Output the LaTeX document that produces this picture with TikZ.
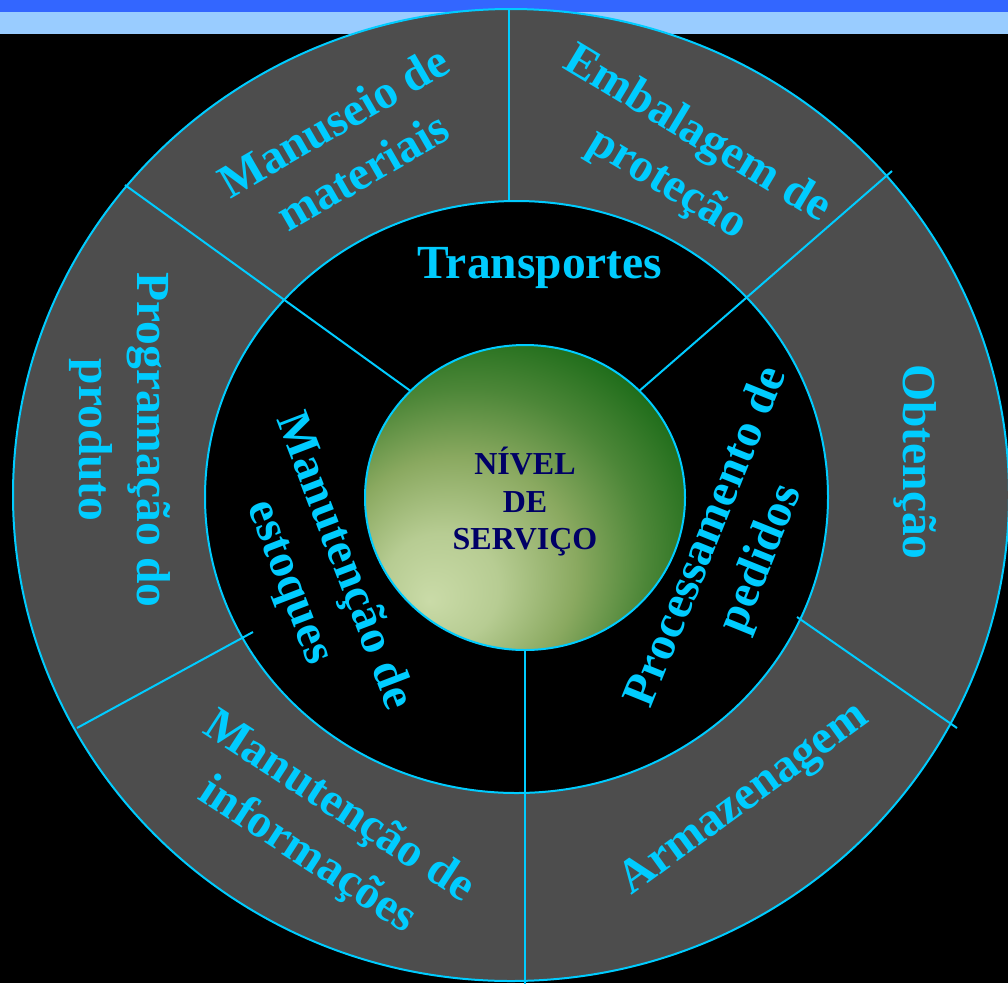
\documentclass[tikz,border=0pt]{standalone}
\usepackage{fontspec}
\setmainfont{Liberation Serif}
\usepackage{tikz}

\definecolor{ringline}{HTML}{00CCFF}
\definecolor{ringgray}{HTML}{4D4D4D}
\definecolor{bandblue}{HTML}{3366FF}
\definecolor{bandlight}{HTML}{99CCFF}
\definecolor{nivelnavy}{HTML}{000066}
\definecolor{nivellight}{HTML}{CADBA8}
\definecolor{nivelmid}{HTML}{8AA960}
\definecolor{niveldark}{HTML}{1A6A17}

\pgfdeclareradialshading{nivelshade}{\pgfpoint{-15bp}{-17bp}}{%
  color(0bp)=(nivellight); color(9bp)=(nivellight!70!nivelmid);
  color(19bp)=(nivelmid); color(28bp)=(nivelmid!45!niveldark);
  color(37bp)=(niveldark); color(70bp)=(niveldark)}

\tikzset{
  ringtext/.style={text=ringline, font=\fontsize{47.5}{58}\selectfont\bfseries, align=center},
  spoke/.style={draw=ringline, line width=2pt}
}

\begin{document}
\begin{tikzpicture}[x=1pt,y=-1pt]
  \useasboundingbox (0,0) rectangle (1008,983);
  \clip (0,0) rectangle (1008,983);
  \fill[black] (0,0) rectangle (1008,983);
  \fill[bandblue] (0,0) rectangle (1008,12);
  \fill[bandlight] (0,12) rectangle (1008,34);

  % rings
  \filldraw[fill=ringgray, spoke] (511,495) ellipse [x radius=498, y radius=486];
  \filldraw[fill=black, spoke] (516.5,497) ellipse [x radius=311.5, y radius=296];

  % spoke ends
  \coordinate (topOut) at (509,9);   \coordinate (topIn) at (509,201);
  \coordinate (ulOut) at (125,185);  \coordinate (ulIn) at (412,392);
  \coordinate (urOut) at (892,171);  \coordinate (urIn) at (638,392);
  \coordinate (lrOut) at (957,728);  \coordinate (lrIn) at (797,617);
  \coordinate (llOut) at (77,728);   \coordinate (llIn) at (253,632);
  \coordinate (botOut) at (525,990); \coordinate (botIn) at (525,649);
  \draw[spoke] (topOut) -- (topIn);
  \draw[spoke] (ulOut) -- (ulIn);
  \draw[spoke] (urOut) -- (urIn);
  \draw[spoke] (lrOut) -- (lrIn);
  \draw[spoke] (llOut) -- (llIn);
  \draw[spoke] (botOut) -- (botIn);

  % centre
  \shadedraw[shading=nivelshade, spoke] (525,497.5) ellipse [x radius=160, y radius=152.5];
  \node[text=nivelnavy, font=\fontsize{32}{37.5}\selectfont\bfseries, align=center] (nivel) at (525,502) {NÍVEL\\DE\\SERVIÇO};

  % labels
  \node[ringtext] (transportes) at (540,268) {Transportes};
  \node[ringtext, rotate=-69] (estoques) at (316,572) {Manutenção de\\estoques};
  \node[ringtext, rotate=68] (pedidos) at (735,548) {Processamento de\\pedidos};
  \node[ringtext, rotate=30] (manuseio) at (348,146) {Manuseio de\\materiais};
  \node[ringtext, rotate=-31] (embalagem) at (682,160) {Embalagem de\\proteção};
  \node[ringtext, rotate=-90] (obtencao) at (915,462) {Obtenção};
  \node[ringtext, rotate=36] (armazenagem) at (745,800) {Armazenagem};
  \node[ringtext, rotate=-33] (informacoes) at (323,832) {Manutenção de\\informações};
  \node[ringtext, rotate=-90] (programacao) at (120,440) {Programação do\\produto};
\end{tikzpicture}
\end{document}
